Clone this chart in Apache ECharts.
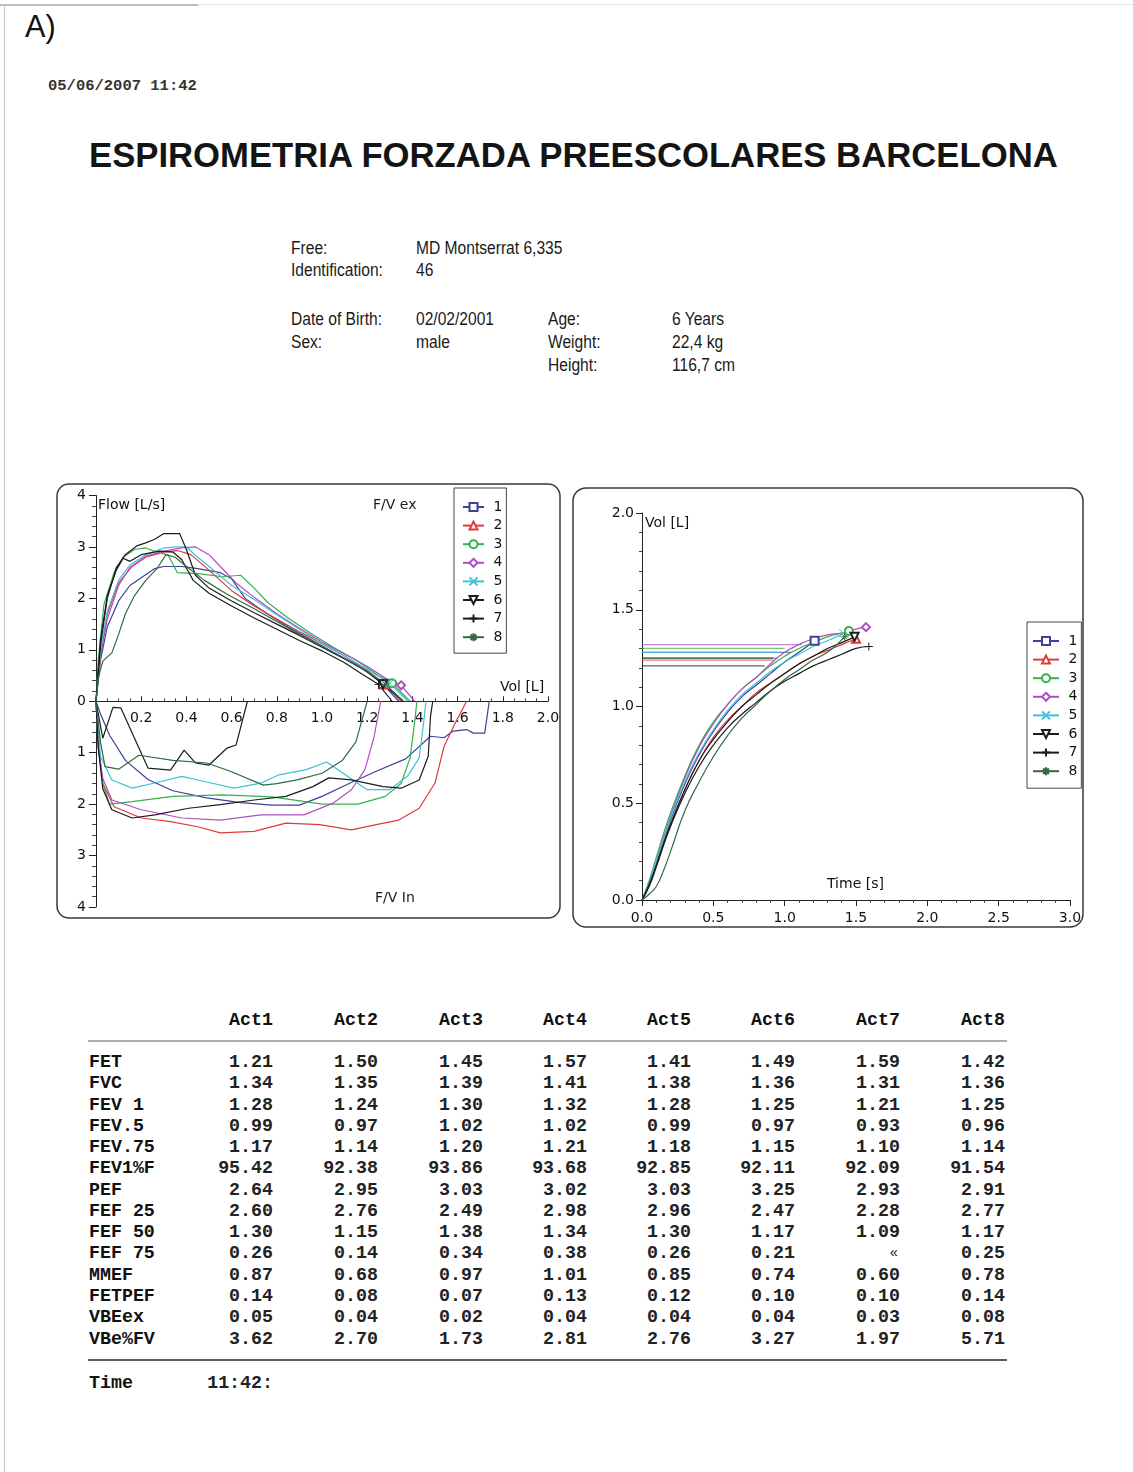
<!DOCTYPE html>
<html><head><meta charset="utf-8">
<script src="https://cdn.jsdelivr.net/npm/echarts@6/dist/echarts.min.js"></script>
<style>
html,body{margin:0;padding:0;background:#fff}
body{width:1133px;height:1472px;position:relative;overflow:hidden;font-family:'Liberation Sans',Arial,sans-serif;color:#111}
.t{position:absolute;white-space:nowrap;line-height:1}
.info{font-size:15.6px;transform:scaleY(1.2);transform-origin:left center;color:#1a1a1a}
.m{font-family:'Liberation Mono','Courier New',monospace;font-weight:bold;font-size:18.3px;color:#222}
</style></head><body>
<div style="position:absolute;left:0;top:4px;width:198px;height:2px;background:#bdbdbd"></div>
<div style="position:absolute;left:198px;top:4px;width:935px;height:1px;background:#e2e2e2"></div>
<div style="position:absolute;left:4px;top:4px;width:1px;height:1468px;background:#c4c4c4"></div>
<div class="t" style="left:25px;top:12px;font-size:30.7px;color:#111">A)</div>
<div class="t" style="left:48px;top:79px;font-family:'Liberation Mono',monospace;font-weight:bold;font-size:15.5px;color:#333">05/06/2007 11:42</div>
<div class="t" style="left:89px;top:138px;font-size:34.7px;font-weight:bold;color:#141414">ESPIROMETRIA FORZADA PREESCOLARES BARCELONA</div>
<div id="info"></div>
<div id="chart" style="position:absolute;left:0;top:470px;width:1133px;height:470px"></div>
<div id="table"></div>
<script>
// ---------- data ----------
const names = ['1','2','3','4','5','6','7','8'];
const actLabels = ['Act1','Act2','Act3','Act4','Act5','Act6','Act7','Act8'];

// Table values
const FET    = [1.21,1.50,1.45,1.57,1.41,1.49,1.59,1.42];
const FVC    = [1.34,1.35,1.39,1.41,1.38,1.36,1.31,1.36];
const FEV1   = [1.28,1.24,1.30,1.32,1.28,1.25,1.21,1.25];
const FEV05  = [0.99,0.97,1.02,1.02,0.99,0.97,0.93,0.96];
const FEV075 = [1.17,1.14,1.20,1.21,1.18,1.15,1.10,1.14];
const FEV1pF = [95.42,92.38,93.86,93.68,92.85,92.11,92.09,91.54];
const PEF    = [2.64,2.95,3.03,3.02,3.03,3.25,2.93,2.91];
const FEF25  = [2.60,2.76,2.49,2.98,2.96,2.47,2.28,2.77];
const FEF50  = [1.30,1.15,1.38,1.34,1.30,1.17,1.09,1.17];
const FEF75  = [0.26,0.14,0.34,0.38,0.26,0.21,null,0.25];
const MMEF   = [0.87,0.68,0.97,1.01,0.85,0.74,0.60,0.78];
const FETPEF = [0.14,0.08,0.07,0.13,0.12,0.10,0.10,0.14];
const VBEex  = [0.05,0.04,0.02,0.04,0.04,0.04,0.03,0.08];
const VBeFV  = [3.62,2.70,1.73,2.81,2.76,3.27,1.97,5.71];
const rowLabels = ['FET','FVC','FEV 1','FEV.5','FEV.75','FEV1%F','PEF','FEF 25','FEF 50','FEF 75','MMEF','FETPEF','VBEex','VBe%FV'];
const rowValues = [FET,FVC,FEV1,FEV05,FEV075,FEV1pF,PEF,FEF25,FEF50,FEF75,MMEF,FETPEF,VBEex,VBeFV];

// Patient info
const infoLeft  = [['Free:','MD Montserrat 6,335'],['Identification:','46'],['Date of Birth:','02/02/2001'],['Sex:','male']];
const infoRight = [['Age:','6 Years'],['Weight:','22,4 kg'],['Height:','116,7 cm']];

// Flow-volume loop, expiratory limb [volume L, flow L/s]
const exp1 = [[0,0],[0.02,0.8],[0.05,1.45],[0.1,1.95],[0.15,2.25],[0.2,2.4],[0.26,2.58],[0.3,2.62],[0.38,2.62],[0.45,2.58],[0.55,2.5],[0.6,2.38],[0.66,2.0],[0.75,1.72],[0.85,1.45],[0.95,1.2],[1.05,0.95],[1.15,0.72],[1.22,0.5],[1.27,0.33],[1.34,0]];
const exp2 = [[0,0],[0.02,0.9],[0.05,1.7],[0.1,2.3],[0.16,2.62],[0.22,2.8],[0.3,2.9],[0.36,2.93],[0.42,2.85],[0.5,2.55],[0.6,2.15],[0.7,1.85],[0.8,1.6],[0.9,1.35],[1.0,1.12],[1.1,0.88],[1.2,0.6],[1.28,0.33],[1.35,0]];
const exp3 = [[0,0],[0.01,0.8],[0.035,1.88],[0.08,2.5],[0.12,2.8],[0.17,2.95],[0.22,2.98],[0.27,2.9],[0.32,2.84],[0.36,2.5],[0.45,2.48],[0.56,2.42],[0.64,2.45],[0.7,2.2],[0.76,1.92],[0.85,1.62],[0.95,1.32],[1.05,1.05],[1.15,0.8],[1.25,0.5],[1.31,0.35],[1.39,0]];
const exp4 = [[0,0],[0.02,0.9],[0.05,1.6],[0.1,2.25],[0.15,2.6],[0.22,2.82],[0.3,2.92],[0.38,2.98],[0.44,3.0],[0.5,2.85],[0.55,2.62],[0.62,2.3],[0.7,2.02],[0.8,1.7],[0.9,1.42],[1.0,1.15],[1.1,0.92],[1.2,0.68],[1.28,0.45],[1.35,0.31],[1.41,0]];
const exp5 = [[0,0],[0.02,1.0],[0.05,1.75],[0.1,2.35],[0.15,2.65],[0.22,2.85],[0.3,2.98],[0.36,3.0],[0.4,3.0],[0.45,2.8],[0.52,2.55],[0.6,2.25],[0.7,1.98],[0.8,1.68],[0.9,1.4],[1.0,1.12],[1.1,0.88],[1.2,0.62],[1.3,0.35],[1.38,0]];
const exp6 = [[0,0],[0.02,1.1],[0.05,2.0],[0.09,2.6],[0.13,2.85],[0.18,3.02],[0.22,3.08],[0.26,3.15],[0.3,3.26],[0.37,3.26],[0.4,2.95],[0.44,2.45],[0.5,2.2],[0.6,1.95],[0.7,1.72],[0.8,1.5],[0.9,1.28],[1.0,1.05],[1.1,0.82],[1.2,0.58],[1.27,0.33],[1.36,0]];
const exp7 = [[0,0],[0.02,1.2],[0.05,2.05],[0.09,2.55],[0.12,2.78],[0.15,2.72],[0.2,2.85],[0.28,2.92],[0.34,2.9],[0.38,2.75],[0.43,2.35],[0.5,2.1],[0.6,1.85],[0.7,1.62],[0.8,1.4],[0.9,1.18],[1.0,0.98],[1.1,0.75],[1.18,0.52],[1.25,0.33],[1.31,0]];
const exp8 = [[0,0],[0.01,0.45],[0.03,0.78],[0.07,0.94],[0.1,1.3],[0.13,1.7],[0.17,2.05],[0.22,2.35],[0.27,2.58],[0.31,2.85],[0.35,2.8],[0.4,2.62],[0.48,2.35],[0.58,2.08],[0.7,1.8],[0.8,1.55],[0.9,1.3],[1.0,1.07],[1.1,0.83],[1.2,0.58],[1.28,0.33],[1.36,0]];

// Inspiratory limb [volume L, inspiratory flow L/s] (drawn downward)
const insp1 = [[0,0],[0.02,0.25],[0.06,0.66],[0.13,1.15],[0.23,1.52],[0.34,1.74],[0.49,1.88],[0.64,1.97],[0.78,2.02],[0.9,2.02],[1.0,1.85],[1.12,1.6],[1.24,1.36],[1.37,1.12],[1.48,0.68],[1.54,0.71],[1.58,0.58],[1.64,0.55],[1.67,0.62],[1.72,0.62],[1.74,0]];
const insp2 = [[0,0],[0.01,0.8],[0.03,1.6],[0.08,2.05],[0.2,2.27],[0.33,2.34],[0.45,2.44],[0.55,2.56],[0.7,2.53],[0.84,2.37],[0.99,2.4],[1.13,2.5],[1.24,2.4],[1.34,2.31],[1.43,2.08],[1.5,1.59],[1.54,0.88],[1.59,0.42],[1.64,0]];
const insp3 = [[0,0],[0.01,0.9],[0.03,1.6],[0.06,2.0],[0.16,1.95],[0.34,1.85],[0.56,1.82],[0.78,1.86],[1.0,2.0],[1.16,2.0],[1.28,1.85],[1.35,1.6],[1.39,1.1],[1.41,0.4],[1.42,0]];
const insp4 = [[0,0],[0.01,0.9],[0.03,1.5],[0.07,1.92],[0.2,2.11],[0.38,2.27],[0.55,2.31],[0.73,2.21],[0.92,2.21],[1.05,1.98],[1.13,1.72],[1.19,1.33],[1.23,0.7],[1.26,0]];
const insp5 = [[0,0],[0.01,0.5],[0.02,1.07],[0.07,1.53],[0.16,1.69],[0.26,1.59],[0.38,1.46],[0.48,1.56],[0.61,1.69],[0.73,1.59],[0.81,1.43],[0.93,1.33],[1.02,1.18],[1.1,1.42],[1.2,1.72],[1.3,1.72],[1.38,1.45],[1.43,1.1],[1.45,0.4],[1.46,0]];
const insp6 = [[0,0],[0.01,0.9],[0.03,1.7],[0.07,2.11],[0.16,2.27],[0.26,2.21],[0.41,2.08],[0.55,2.01],[0.7,1.92],[0.84,1.85],[0.96,1.66],[1.03,1.49],[1.13,1.53],[1.27,1.66],[1.35,1.69],[1.43,1.53],[1.47,1.07],[1.48,0.3],[1.49,0]];
const insp7 = [[0,0],[0.03,0.72],[0.075,0.12],[0.11,0.13],[0.23,1.3],[0.33,1.34],[0.39,0.95],[0.44,1.2],[0.5,1.24],[0.58,0.91],[0.62,0.85],[0.67,0]];
const insp8 = [[0,0],[0.02,0.8],[0.04,1.27],[0.1,1.32],[0.19,1.05],[0.34,1.15],[0.49,1.2],[0.6,1.37],[0.74,1.63],[0.8,1.6],[0.89,1.53],[1.0,1.4],[1.09,1.15],[1.15,0.79],[1.2,0]];

// Volume-time curves [time s, volume L]; each ends at (FET, FVC)
const vt1 = [[0,0],[0.05,0.08],[0.1,0.19],[0.15,0.3],[0.2,0.41],[0.3,0.6],[0.4,0.75],[0.5,0.87],[0.6,0.97],[0.7,1.05],[0.8,1.11],[0.9,1.17],[1.0,1.23],[1.1,1.28]];
const vt2 = [[0,0],[0.05,0.08],[0.1,0.18],[0.15,0.29],[0.2,0.39],[0.3,0.57],[0.4,0.72],[0.5,0.84],[0.6,0.93],[0.7,1.0],[0.8,1.07],[0.9,1.12],[1.0,1.17],[1.1,1.22],[1.2,1.26],[1.3,1.29],[1.4,1.32]];
const vt3 = [[0,0],[0.05,0.1],[0.1,0.22],[0.15,0.34],[0.2,0.45],[0.3,0.64],[0.4,0.8],[0.5,0.92],[0.6,1.01],[0.7,1.09],[0.8,1.15],[0.9,1.21],[1.0,1.26],[1.1,1.3],[1.2,1.33],[1.3,1.36],[1.4,1.38]];
const vt4 = [[0,0],[0.05,0.09],[0.1,0.2],[0.15,0.32],[0.2,0.43],[0.3,0.63],[0.4,0.79],[0.5,0.91],[0.6,1.01],[0.7,1.09],[0.8,1.15],[0.9,1.22],[1.0,1.28],[1.1,1.32],[1.2,1.35],[1.3,1.37],[1.4,1.38],[1.5,1.4]];
const vt5 = [[0,0],[0.05,0.09],[0.1,0.2],[0.15,0.31],[0.2,0.42],[0.3,0.61],[0.4,0.76],[0.5,0.88],[0.6,0.98],[0.7,1.06],[0.8,1.12],[0.9,1.18],[1.0,1.23],[1.1,1.27],[1.2,1.31],[1.3,1.34],[1.36,1.36]];
const vt6 = [[0,0],[0.05,0.08],[0.1,0.18],[0.15,0.29],[0.2,0.39],[0.3,0.57],[0.4,0.72],[0.5,0.83],[0.6,0.92],[0.7,1.0],[0.8,1.06],[0.9,1.12],[1.0,1.17],[1.1,1.22],[1.2,1.26],[1.3,1.3],[1.4,1.33]];
const vt7 = [[0,0],[0.05,0.07],[0.1,0.17],[0.15,0.28],[0.2,0.38],[0.3,0.55],[0.4,0.69],[0.5,0.8],[0.6,0.89],[0.7,0.96],[0.8,1.02],[0.9,1.08],[1.0,1.13],[1.1,1.17],[1.2,1.21],[1.3,1.24],[1.4,1.27],[1.5,1.3]];
const vt8 = [[0,0],[0.05,0.03],[0.1,0.07],[0.15,0.15],[0.2,0.25],[0.3,0.46],[0.4,0.61],[0.5,0.74],[0.6,0.85],[0.7,0.94],[0.8,1.01],[0.9,1.08],[1.0,1.14],[1.1,1.19],[1.2,1.24],[1.3,1.28],[1.38,1.33]];
// end time of the FEV1 reference lines (s)
const fev1LineEnd = [1.05,0.92,1.0,1.12,0.96,0.92,0.86,0.95];

const expData  = [exp1,exp2,exp3,exp4,exp5,exp6,exp7,exp8];
const inspData = [insp1,insp2,insp3,insp4,insp5,insp6,insp7,insp8];
const vtData   = [vt1,vt2,vt3,vt4,vt5,vt6,vt7,vt8];

// ---------- styles ----------
const colors  = ['#3f3f9c','#e03a3a','#36b04a','#b04ec2','#3cc4d6','#1c1c1c','#1c1c1c','#2f6a45'];
const symbols = ['emptyRect','emptyTriangle','emptyCircle','emptyDiamond','path://M0,0L10,10M10,0L0,10','emptyTriangle','path://M5,0L5,10M0,5L10,5','path://M5,0L5,10M0,5L10,5M1.5,1.5L8.5,8.5M8.5,1.5L1.5,8.5'];
const rotates = [0,0,0,0,0,180,0,0];
const FONT = "'DejaVu Sans', Verdana, sans-serif";
const LW = 1.2;

// ---------- HTML text ----------
(function(){
  const info = document.getElementById('info');
  const ly = [247.5,270,319,342];
  infoLeft.forEach((r,i)=>{
    info.insertAdjacentHTML('beforeend',`<div class="t info" style="left:291px;top:${ly[i]-8}px">${r[0]}</div><div class="t info" style="left:416px;top:${ly[i]-8}px">${r[1]}</div>`);
  });
  const ry = [319,342,365];
  infoRight.forEach((r,i)=>{
    info.insertAdjacentHTML('beforeend',`<div class="t info" style="left:548px;top:${ry[i]-8}px">${r[0]}</div><div class="t info" style="left:672px;top:${ry[i]-8}px">${r[1]}</div>`);
  });
  const tb = document.getElementById('table');
  const colRight = [273,378,483,587,691,795,900,1005];
  let h = '';
  actLabels.forEach((a,j)=>{ h += `<div class="t m" style="right:${1133-colRight[j]}px;top:${1019-8}px;color:#111">${a}</div>`; });
  h += `<div style="position:absolute;left:88px;top:1040px;width:919px;height:2px;background:#b0b0b0"></div>`;
  rowLabels.forEach((lab,i)=>{
    const y = 1061 + i*21.27;
    h += `<div class="t m" style="left:89px;top:${y-8}px;color:#111">${lab}</div>`;
    rowValues[i].forEach((v,j)=>{
      const s = (v===null) ? '«' : v.toFixed(2);
      const extra = (v===null) ? 'font-size:14px;font-weight:normal;top:'+(y-6)+'px;right:'+(1133-colRight[j]+2)+'px' : 'top:'+(y-8)+'px;right:'+(1133-colRight[j])+'px';
      h += `<div class="t m" style="${extra}">${s}</div>`;
    });
  });
  h += `<div style="position:absolute;left:88px;top:1359px;width:919px;height:2px;background:#5a5a5a"></div>`;
  h += `<div class="t m" style="left:89px;top:${1382-8}px;color:#111">Time</div>`;
  h += `<div class="t m" style="right:${1133-273}px;top:${1382-8}px">11:42:</div>`;
  tb.innerHTML = h;
})();

// ---------- chart ----------
const chart = echarts.init(document.getElementById('chart'), null, {renderer:'canvas'});
const OY = 470; // page offset of chart div

function mk(i, pts, markIdx, xi, yi, extra){
  const data = pts.map((p,k)=> k===markIdx ? {value:p} : {value:p, symbol:'none'});
  return Object.assign({
    type:'line', name:names[i], xAxisIndex:xi, yAxisIndex:yi, data,
    symbol:symbols[i], symbolRotate:rotates[i], symbolSize:8, showSymbol:true,
    lineStyle:{color:colors[i], width:LW},
    itemStyle:{color:colors[i], borderColor:colors[i], borderWidth:1},
    emphasis:{disabled:true}, silent:true, animation:false
  }, extra||{});
}

const series = [];
// expiratory limbs (first, so legend uses them)
expData.forEach((d,i)=> series.push(mk(i, d, d.length-2, 0, 0, {z:3})));
// inspiratory limbs on the lower (inverted) panel
inspData.forEach((d,i)=> series.push({
  type:'line', name:names[i], xAxisIndex:1, yAxisIndex:1,
  data:d, symbol:'none', lineStyle:{color:colors[i], width:LW},
  emphasis:{disabled:true}, silent:true, animation:false, z:2
}));
// volume-time curves ending at (FET, FVC)
vtData.forEach((d,i)=>{
  const pts = d.concat([[FET[i], FVC[i]]]);
  series.push(mk(i, pts, pts.length-1, 2, 2, {smooth:true, z:3}));
});
// FEV1 reference lines
FEV1.forEach((v,i)=> series.push({
  type:'line', name:names[i], xAxisIndex:2, yAxisIndex:2,
  data:[[0,v],[fev1LineEnd[i],v]], symbol:'none',
  lineStyle:{color:colors[i], width:1.3, opacity:0.7},
  emphasis:{disabled:true}, silent:true, animation:false, z:1
}));

const AX = {color:'#222', width:1};
const lbl = (extra)=> Object.assign({color:'#111', fontSize:14, fontFamily:FONT}, extra);

const legendCommon = {
  orient:'vertical', itemHeight:10, itemGap:4.6, selectedMode:false,
  borderColor:'#444', borderWidth:1, borderRadius:0,
  textStyle:{fontSize:14, color:'#111', fontFamily:FONT, lineHeight:14},
  formatter:n=>' '+n
};

const option = {
  animation:false,
  backgroundColor:'transparent',
  grid:[
    {left:96, top:495.5-OY, width:452, height:205.75, outerBoundsMode:'none'},
    {left:96, top:701.25-OY, width:452, height:205.75, outerBoundsMode:'none'},
    {left:642, top:513-OY, width:428, height:387, outerBoundsMode:'none'}
  ],
  xAxis:[
    {gridIndex:0, type:'value', min:0, max:2, interval:0.2, position:'bottom',
      axisLine:{show:true, onZero:false, lineStyle:AX},
      axisTick:{show:true, inside:true, length:5, lineStyle:{color:'#222'}},
      minorTick:{show:true, splitNumber:4, length:3, lineStyle:{color:'#444'}},
      axisLabel:{show:false}, splitLine:{show:false}},
    {gridIndex:1, type:'value', min:0, max:2, interval:0.2, position:'top',
      axisLine:{show:false, onZero:false}, axisTick:{show:false}, minorTick:{show:false},
      axisLabel:lbl({inside:true, margin:10, formatter:v=> v===0 ? '' : v.toFixed(1)}), splitLine:{show:false}},
    {gridIndex:2, type:'value', min:0, max:3, interval:0.5,
      axisLine:{show:true, onZero:false, lineStyle:AX},
      axisTick:{show:true, inside:false, length:6, lineStyle:{color:'#222'}},
      minorTick:{show:true, splitNumber:5, length:3, lineStyle:{color:'#444'}},
      axisLabel:lbl({margin:11, formatter:v=> v.toFixed(1)}), splitLine:{show:false}}
  ],
  yAxis:[
    {gridIndex:0, type:'value', min:0, max:4, interval:1,
      axisLine:{show:true, onZero:false, lineStyle:AX},
      axisTick:{show:true, inside:false, length:7, lineStyle:{color:'#222'}},
      minorTick:{show:true, splitNumber:5, length:4, lineStyle:{color:'#444'}},
      axisLabel:lbl({margin:10}), splitLine:{show:false}},
    {gridIndex:1, type:'value', min:0, max:4, interval:1, inverse:true,
      axisLine:{show:true, onZero:false, lineStyle:AX},
      axisTick:{show:true, inside:false, length:7, lineStyle:{color:'#222'}},
      minorTick:{show:true, splitNumber:5, length:4, lineStyle:{color:'#444'}},
      axisLabel:lbl({margin:10, formatter:v=> v===0 ? '' : String(v)}), splitLine:{show:false}},
    {gridIndex:2, type:'value', min:0, max:2, interval:0.5,
      axisLine:{show:true, onZero:false, lineStyle:AX},
      axisTick:{show:true, inside:false, length:6, lineStyle:{color:'#222'}},
      minorTick:{show:true, splitNumber:5, length:3, lineStyle:{color:'#444'}},
      axisLabel:lbl({margin:8, formatter:v=> v.toFixed(1)}), splitLine:{show:false}}
  ],
  legend:[
    Object.assign({}, legendCommon, {data:names, left:454, top:488-OY, itemWidth:21, padding:[12,4,9,8]}),
    Object.assign({}, legendCommon, {data:names, left:1027, top:622-OY, itemWidth:26, padding:[12,4,10,5]})
  ],
  graphic:[
    {type:'rect', shape:{x:57, y:484-OY, width:503, height:434, r:12}, style:{fill:'none', stroke:'#3a3a3a', lineWidth:1.5}, silent:true, z:0},
    {type:'rect', shape:{x:573, y:488-OY, width:510, height:439, r:13}, style:{fill:'none', stroke:'#3a3a3a', lineWidth:1.5}, silent:true, z:0},
    {type:'text', x:98, y:505-OY, style:{text:'Flow [L/s]', font:"14px "+FONT, fill:'#111', verticalAlign:'middle'}, silent:true},
    {type:'text', x:373, y:505-OY, style:{text:'F/V ex', font:"14px "+FONT, fill:'#1a1a1a', verticalAlign:'middle'}, silent:true},
    {type:'text', x:500, y:687-OY, style:{text:'Vol [L]', font:"14px "+FONT, fill:'#111', verticalAlign:'middle'}, silent:true},
    {type:'text', x:375, y:898-OY, style:{text:'F/V In', font:"14px "+FONT, fill:'#1a1a1a', verticalAlign:'middle'}, silent:true},
    {type:'text', x:645, y:523-OY, style:{text:'Vol [L]', font:"14px "+FONT, fill:'#111', verticalAlign:'middle'}, silent:true},
    {type:'text', x:827, y:884-OY, style:{text:'Time [s]', font:"14px "+FONT, fill:'#111', verticalAlign:'middle'}, silent:true}
  ],
  series
};
chart.setOption(option);
</script>
</body></html>
